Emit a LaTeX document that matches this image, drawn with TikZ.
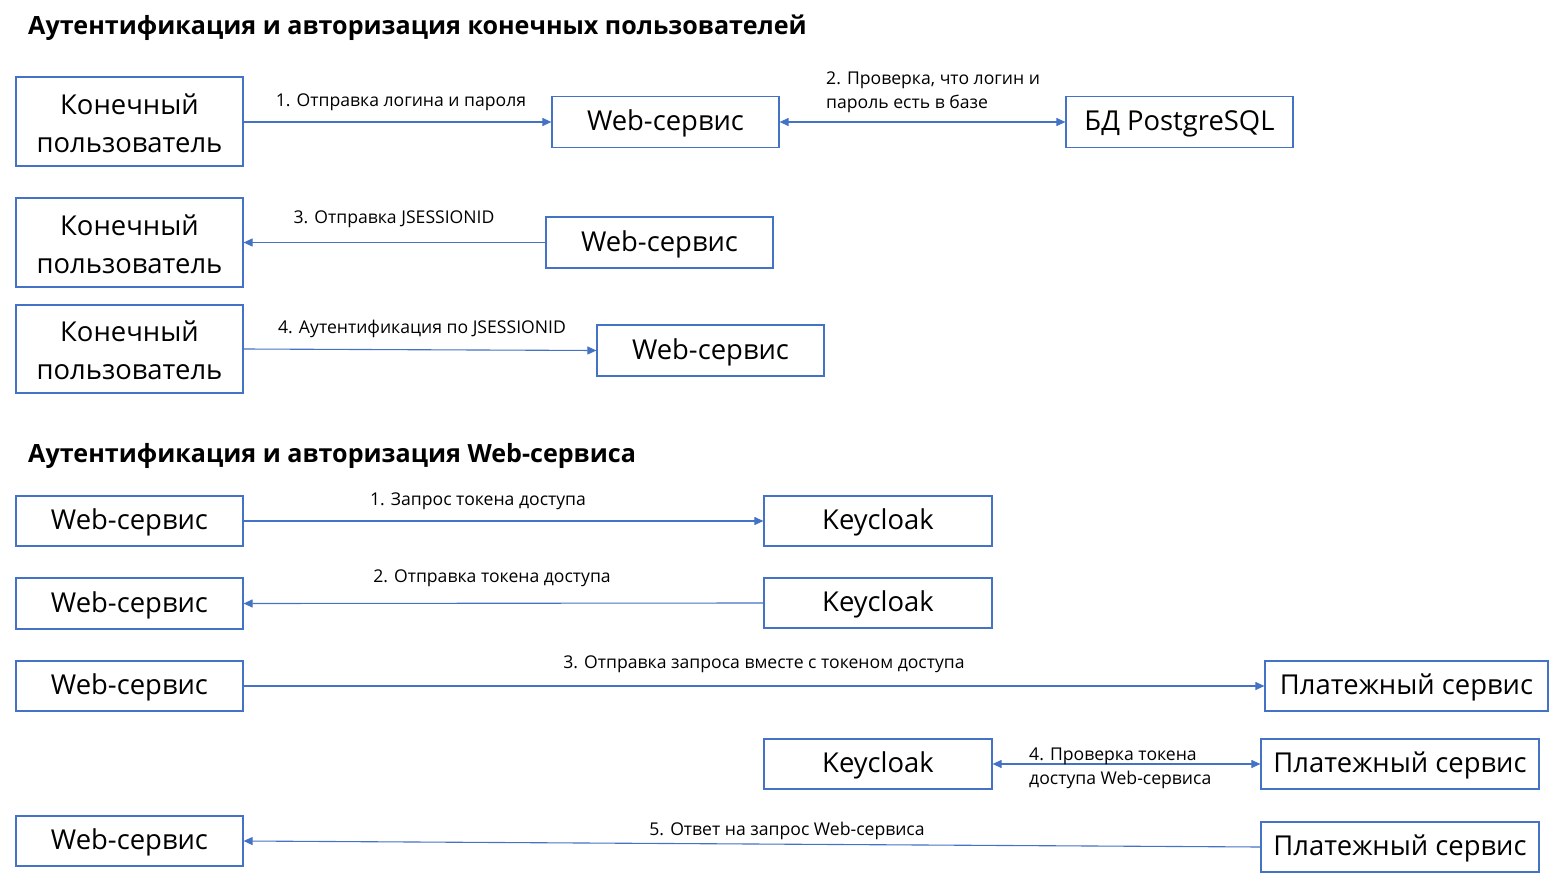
\documentclass[tikz,border=0pt]{standalone}
\usepackage{fontspec}
\setmainfont{Open Sans}
\usetikzlibrary{arrows.meta}
\definecolor{bblue}{HTML}{4472C4}
\tikzset{
  box/.style={draw=bblue, line width=1.2pt, minimum width=227pt, inner sep=0pt, align=center, font=\fontsize{27.4}{38}\selectfont, text height=22.5pt, text depth=5.4pt},
  box2/.style={box, text height=67pt, text depth=5.5pt},
  lbl/.style={inner sep=0pt, font=\fontsize{17.6}{24}\selectfont},
  ttl/.style={inner sep=0pt, anchor=west, font=\fontsize{25.1}{28}\selectfont\bfseries},
  conn/.style={draw=bblue, line width=1.1pt, -{Triangle[length=9pt,width=8pt]}},
  bconn/.style={draw=bblue, line width=1.1pt, {Triangle[length=9pt,width=8pt]}-{Triangle[length=9pt,width=8pt]}}
}
\begin{document}
\begin{tikzpicture}[x=1pt,y=-1pt]
\useasboundingbox (0,0) rectangle (1559,883);
% Section 1
\node[ttl] (t1) at (28,28) {Аутентификация и авторизация конечных пользователей};
\node[box2, minimum height=89pt] (a1) at (129.5,121.5) {Конечный\\пользователь};
\node[box, minimum height=51pt] (w1) at (665.5,122) {Web-сервис};
\node[box, minimum height=51pt] (db) at (1179.5,122) {БД PostgreSQL};
\draw[conn] (a1.east |- w1) -- (w1.west);
\node[lbl] (l1) at (401,102.5) {1. Отправка логина и пароля};
\draw[bconn] (w1.east) -- (db.west);
\node[lbl, anchor=west, align=left] (l2) at (826,92) {2. Проверка, что логин и\\пароль есть в базе};

\node[box2, minimum height=89pt] (a2) at (129.5,242.5) {Конечный\\пользователь};
\node[box, minimum height=51pt] (w2) at (659.5,242.5) {Web-сервис};
\draw[conn] (w2.west) -- (a2.east);
\node[lbl] (l3) at (394,219.5) {3. Отправка JSESSIONID};

\node[box2, minimum height=88pt] (a3) at (129.5,349) {Конечный\\пользователь};
\node[box, minimum height=51pt] (w3) at (710.5,350.5) {Web-сервис};
\draw[conn] (a3.east) -- (w3.west);
\node[lbl] (l4) at (422,328.5) {4. Аутентификация по JSESSIONID};

% Section 2
\node[ttl] (t2) at (28,456) {Аутентификация и авторизация Web-сервиса};
\node[box, minimum height=50pt] (b1) at (129.5,521) {Web-сервис};
\node[box, minimum height=50pt, minimum width=228pt] (k1) at (878,521) {Keycloak};
\draw[conn] (b1.east) -- (k1.west);
\node[lbl] (m1) at (478,501.5) {1. Запрос токена доступа};

\node[box, minimum height=51pt] (b2) at (129.5,603.5) {Web-сервис};
\node[box, minimum height=50pt, minimum width=228pt] (k2) at (878,603) {Keycloak};
\draw[conn] (k2.west) -- (b2.east);
\node[lbl] (m2) at (492,578.5) {2. Отправка токена доступа};

\node[box, minimum height=50pt] (b3) at (129.5,686) {Web-сервис};
\node[box, minimum height=50pt, minimum width=283pt] (p1) at (1406.5,686) {Платежный сервис};
\draw[conn] (b3.east) -- (p1.west);
\node[lbl] (m3) at (764,664.5) {3. Отправка запроса вместе с токеном доступа};

\node[box, minimum height=50pt, minimum width=228pt] (k3) at (878,764) {Keycloak};
\node[box, minimum height=50pt, minimum width=278pt] (p2) at (1400,764) {Платежный сервис};
\draw[bconn] (k3.east) -- (p2.west);
\node[lbl, anchor=west, align=left] (m4) at (1029,768) {4. Проверка токена\\доступа Web-сервиса};

\node[box, minimum height=50pt] (b5) at (129.5,841) {Web-сервис};
\node[box, minimum height=50pt, minimum width=278pt] (p3) at (1400,847) {Платежный сервис};
\draw[conn] (p3.west) -- (b5.east);
\node[lbl] (m5) at (787,830.5) {5. Ответ на запрос Web-сервиса};
\end{tikzpicture}
\end{document}
